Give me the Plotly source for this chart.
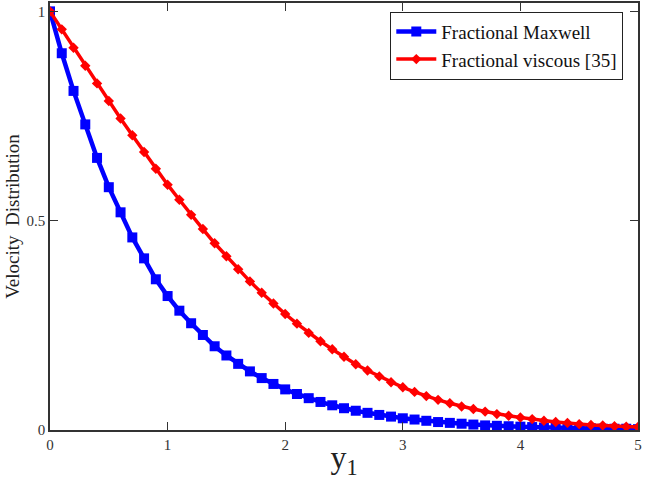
import plotly.graph_objects as go

x_vals = [round(i * 0.1, 1) for i in range(51)]

maxwell = [1.0, 0.90, 0.81, 0.73, 0.65, 0.58, 0.52, 0.46, 0.41, 0.36,
           0.32, 0.285, 0.255, 0.227, 0.200, 0.178, 0.158, 0.140, 0.124, 0.110,
           0.097, 0.086, 0.076, 0.067, 0.059, 0.052, 0.046, 0.041, 0.036, 0.032,
           0.028, 0.025, 0.022, 0.019, 0.017, 0.015, 0.013, 0.011, 0.010, 0.009,
           0.008, 0.007, 0.006, 0.005, 0.005, 0.004, 0.004, 0.003, 0.003, 0.003,
           0.002]

viscous = [1.0, 0.957, 0.913, 0.870, 0.828, 0.786, 0.744, 0.704, 0.664, 0.624,
           0.586, 0.550, 0.514, 0.480, 0.446, 0.415, 0.384, 0.355, 0.328, 0.302,
           0.277, 0.254, 0.232, 0.212, 0.193, 0.175, 0.157, 0.142, 0.128, 0.114,
           0.102, 0.091, 0.081, 0.072, 0.064, 0.056, 0.050, 0.044, 0.038, 0.034,
           0.030, 0.026, 0.022, 0.019, 0.017, 0.014, 0.012, 0.011, 0.009, 0.008,
           0.007]

x_ticks = [0, 1, 2, 3, 4, 5]
y_ticks = [0, 0.5, 1]
y_ticklabels = ["0", "0.5", "1"]

serif = "Liberation Serif"

fig = go.Figure()
fig.add_trace(go.Scatter(
    x=x_vals, y=maxwell, mode="lines+markers", name="Fractional Maxwell",
    line=dict(color="#0000ff", width=4.5),
    marker=dict(symbol="square", size=10, color="#0000ff"),
))
fig.add_trace(go.Scatter(
    x=x_vals, y=viscous, mode="lines+markers", name="Fractional viscous [35]",
    line=dict(color="#ff0000", width=3.5),
    marker=dict(symbol="diamond", size=8, color="#ff0000"),
))

fig.update_layout(
    width=645, height=480,
    margin=dict(l=50, r=7, t=3, b=50, autoexpand=False),
    paper_bgcolor="white", plot_bgcolor="white",
    font=dict(family=serif, color="#222222"),
    showlegend=True,
    legend=dict(
        x=0.975, y=0.98, xanchor="right", yanchor="top",
        bgcolor="white", bordercolor="#222222", borderwidth=1,
        font=dict(family=serif, size=19, color="#111111"),
        tracegroupgap=0, itemwidth=40,
    ),
)

fig.update_xaxes(
    range=[0, 5], tickvals=x_ticks, ticktext=[str(t) for t in x_ticks],
    ticks="inside", ticklen=8, tickwidth=1.2, tickcolor="#333333",
    showline=True, linecolor="#333333", linewidth=1.5, mirror="allticks",
    showgrid=False, zeroline=False, automargin=False,
    tickfont=dict(family=serif, size=15, color="#333333"),
    title=dict(text="y<sub>1</sub>", font=dict(family=serif, size=32, color="#222222"), standoff=10),
)
fig.update_yaxes(
    range=[0, 1.02], tickvals=y_ticks, ticktext=y_ticklabels,
    ticks="inside", ticklen=8, tickwidth=1.2, tickcolor="#333333",
    showline=True, linecolor="#333333", linewidth=1.5, mirror="allticks",
    showgrid=False, zeroline=False, automargin=False,
    tickfont=dict(family=serif, size=15, color="#333333"),
    title=dict(text="Velocity  Distribution", font=dict(family=serif, size=19, color="#222222"), standoff=2),
)

fig.write_html("out.html", config={"displayModeBar": False},
               post_script="document.body.style.margin='0';")
